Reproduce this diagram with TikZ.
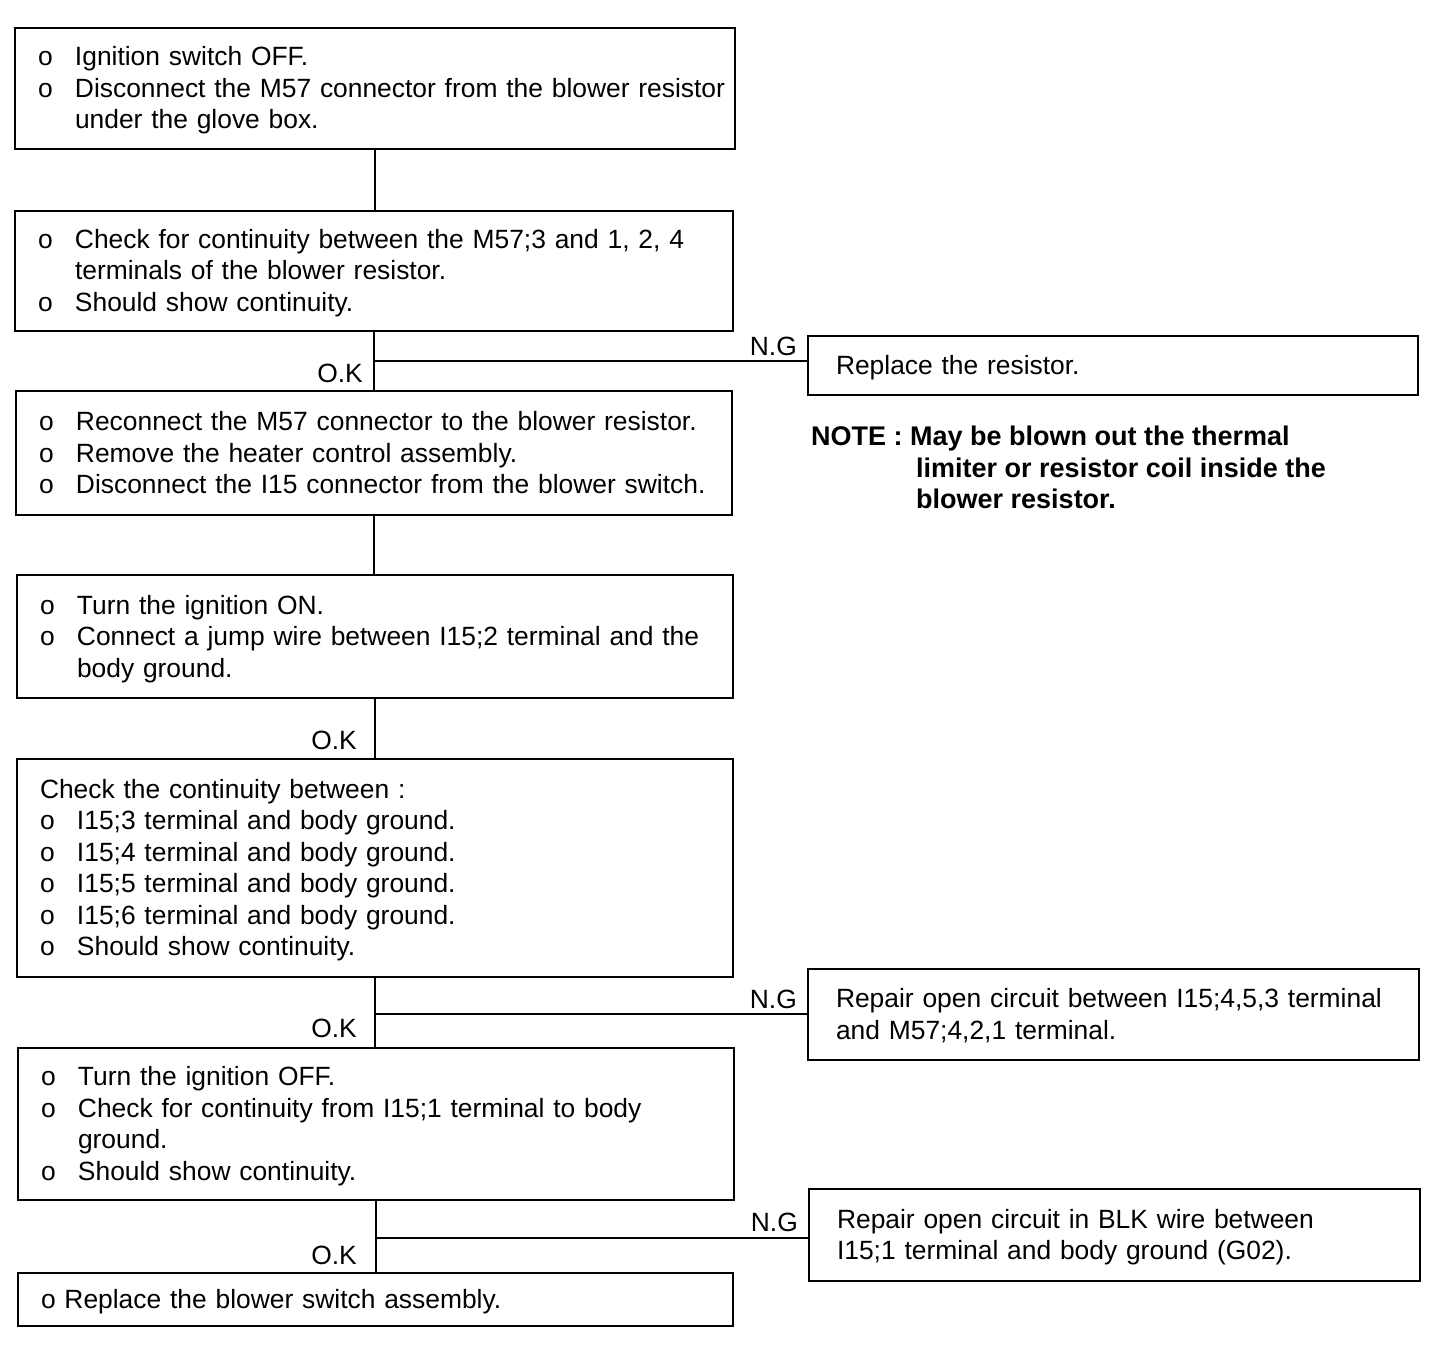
\documentclass[tikz,border=0pt]{standalone}
\usepackage{fontspec}
\setmainfont{Liberation Sans}
\newcommand{\bitem}[1]{\mbox{\makebox[37pt][l]{o}#1}}
\newcommand{\citem}[1]{\mbox{\hspace*{37pt}#1}}
\newcommand{\plainl}[1]{\mbox{#1}}
\newcommand{\tops}{\rule{0pt}{23.5pt}}
\newcommand{\bots}{\rule[-5.5pt]{0pt}{5.5pt}}
\begin{document}
\begin{tikzpicture}[x=1pt,y=-1pt,font=\fontsize{26.4}{31.5}\selectfont]
\tikzset{
  box/.style={draw, line width=2.5pt, inner xsep=23pt, inner ysep=0pt, align=left, anchor=center},
  rbox/.style={draw, line width=2.5pt, inner xsep=28pt, inner ysep=0pt, align=left, anchor=center},
  conn/.style={line width=2.2pt},
  lbl/.style={inner sep=0pt, anchor=east}
}
\useasboundingbox (0,0) rectangle (1456,1348);
\fill[white] (0,0) rectangle (1456,1348);

\node[box, text width=674pt, minimum height=121pt] (B1) at (375,88.5) {%
\tops\bitem{Ignition switch OFF.}\\
\bitem{Disconnect the M57 connector from the blower resistor}\\
\citem{under the glove box.}\bots};

\node[box, text width=672pt, minimum height=120pt] (B2) at (374,271) {%
\tops\bitem{Check for continuity between the M57;3 and 1, 2, 4}\\
\citem{terminals of the blower resistor.}\\
\bitem{Should show continuity.}\bots};

\node[box, text width=670pt, minimum height=124pt] (B3) at (374,453) {%
\tops\bitem{Reconnect the M57 connector to the blower resistor.}\\
\bitem{Remove the heater control assembly.}\\
\bitem{Disconnect the I15 connector from the blower switch.}\bots};

\node[box, text width=670pt, minimum height=123pt] (B4) at (375,636.5) {%
\tops\bitem{Turn the ignition ON.}\\
\bitem{Connect a jump wire between I15;2 terminal and the}\\
\citem{body ground.}\bots};

\node[box, text width=670pt, minimum height=218pt] (B5) at (375,868) {%
\tops\plainl{Check the continuity between :}\\
\bitem{I15;3 terminal and body ground.}\\
\bitem{I15;4 terminal and body ground.}\\
\bitem{I15;5 terminal and body ground.}\\
\bitem{I15;6 terminal and body ground.}\\
\bitem{Should show continuity.}\bots};

\node[box, text width=670pt, minimum height=152pt] (B6) at (376,1124) {%
\tops\bitem{Turn the ignition OFF.}\\
\bitem{Check for continuity from I15;1 terminal to body}\\
\citem{ground.}\\
\bitem{Should show continuity.}\bots};

\node[box, text width=669pt, minimum height=53pt] (B7) at (375.5,1299.5) {%
\tops\plainl{o Replace the blower switch assembly.}\bots};

\node[rbox, text width=554pt, minimum height=59pt] (R1) at (1113,365.5) {\tops\plainl{Replace the resistor.}\bots};
\node[rbox, text width=555pt, minimum height=91pt] (R2) at (1113.5,1014.5) {%
\tops\plainl{Repair open circuit between I15;4,5,3 terminal}\\
\plainl{and M57;4,2,1 terminal.}\bots};
\node[rbox, text width=555pt, minimum height=92pt] (R3) at (1114.5,1235) {%
\tops\plainl{Repair open circuit in BLK wire between}\\
\plainl{I15;1 terminal and body ground (G02).}\bots};

\node[inner sep=0pt, anchor=west, align=left, font=\fontsize{27}{31.8}\selectfont\bfseries] (NOTE) at (811,468) {%
\tops NOTE : May be blown out the thermal\\
\hspace*{105pt}limiter or resistor coil inside the\\
\hspace*{105pt}blower resistor.\bots};

\coordinate (J1) at (374,361);
\coordinate (J2) at (375,1014);
\coordinate (J3) at (376,1238);

\draw[conn] (B1.south) -- (B1.south |- B2.north);
\draw[conn] (B2.south) -- (B2.south |- B3.north);
\draw[conn] (J1) -- (J1 -| R1.west);
\draw[conn] (B3.south) -- (B3.south |- B4.north);
\draw[conn] (B4.south) -- (B4.south |- B5.north);
\draw[conn] (B5.south) -- (B5.south |- B6.north);
\draw[conn] (J2) -- (J2 -| R2.west);
\draw[conn] (B6.south) -- (B6.south |- B7.north);
\draw[conn] (J3) -- (J3 -| R3.west);

\node[lbl] (ng1) at (797,346) {N.G};
\node[lbl] (ok1) at (363,373) {O.K};
\node[lbl] (ok2) at (357,740) {O.K};
\node[lbl] (ng2) at (797,999) {N.G};
\node[lbl] (ok3) at (357,1028) {O.K};
\node[lbl] (ng3) at (798,1222) {N.G};
\node[lbl] (ok4) at (357,1255) {O.K};
\end{tikzpicture}
\end{document}
